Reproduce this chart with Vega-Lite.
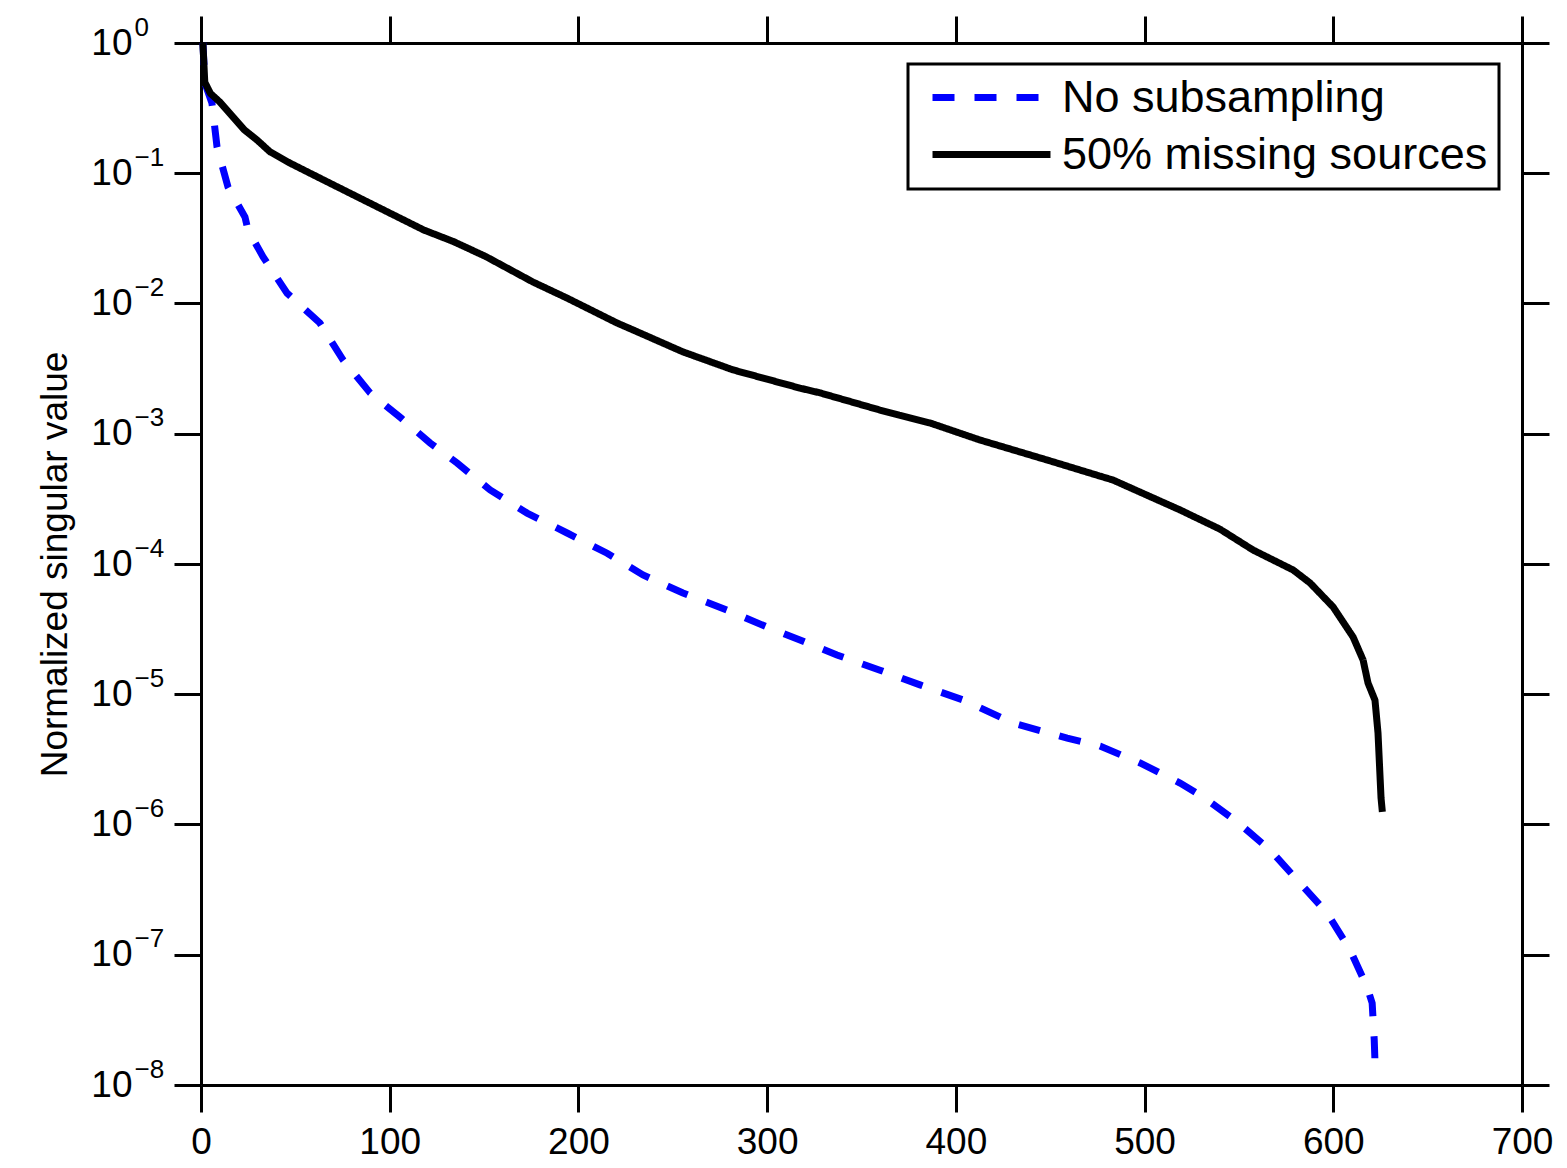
{
  "$schema": "https://vega.github.io/schema/vega-lite/v6.json",
  "width": 1321,
  "height": 1042,
  "autosize": {"type": "none"},
  "padding": {"left": 201, "top": 43, "right": 45, "bottom": 83},
  "background": "white",
  "config": {
    "view": {"stroke": null},
    "font": "Liberation Sans",
    "axis": {
      "domainColor": "black", "domainWidth": 3, "tickColor": "black", "tickWidth": 3, "tickSize": 27,
      "grid": false, "labelColor": "black", "labelFont": "Liberation Sans", "titleColor": "black", "titleFont": "Liberation Sans", "titleFontWeight": "normal",
      "labelFlush": false, "labelOverlap": false
    },
    "legend": {
      "strokeColor": "black", "strokeWidth": 3, "fillColor": "white", "padding": 11,
      "labelFont": "Liberation Sans", "labelFontSize": 45, "labelColor": "black", "labelLimit": 0,
      "symbolType": "M-4,0H4", "symbolSize": 870, "symbolStrokeWidth": 7, "symbolOffset": 50,
      "labelOffset": 48, "rowPadding": 11, "cornerRadius": 0
    }
  },
  "data": {
    "values": [
      {"series": "No subsampling", "x": 1, "v": 1.0},
      {"series": "No subsampling", "x": 2.1, "v": 0.49},
      {"series": "No subsampling", "x": 5.8, "v": 0.346},
      {"series": "No subsampling", "x": 8.5, "v": 0.159},
      {"series": "No subsampling", "x": 14.3, "v": 0.0784},
      {"series": "No subsampling", "x": 23.3, "v": 0.0461},
      {"series": "No subsampling", "x": 24.9, "v": 0.0367},
      {"series": "No subsampling", "x": 32.9, "v": 0.0228},
      {"series": "No subsampling", "x": 45.6, "v": 0.012},
      {"series": "No subsampling", "x": 63, "v": 0.00708},
      {"series": "No subsampling", "x": 75.3, "v": 0.00368},
      {"series": "No subsampling", "x": 89.6, "v": 0.00206},
      {"series": "No subsampling", "x": 106, "v": 0.00132},
      {"series": "No subsampling", "x": 121.4, "v": 0.00085},
      {"series": "No subsampling", "x": 135.7, "v": 0.000596},
      {"series": "No subsampling", "x": 153.2, "v": 0.00037},
      {"series": "No subsampling", "x": 172.8, "v": 0.000246},
      {"series": "No subsampling", "x": 194, "v": 0.000173},
      {"series": "No subsampling", "x": 215.2, "v": 0.000121},
      {"series": "No subsampling", "x": 234.2, "v": 8.24e-5},
      {"series": "No subsampling", "x": 255.4, "v": 5.99e-5},
      {"series": "No subsampling", "x": 278.8, "v": 4.43e-5},
      {"series": "No subsampling", "x": 300, "v": 3.28e-5},
      {"series": "No subsampling", "x": 317.4, "v": 2.61e-5},
      {"series": "No subsampling", "x": 337, "v": 2.0e-5},
      {"series": "No subsampling", "x": 359.8, "v": 1.53e-5},
      {"series": "No subsampling", "x": 381, "v": 1.18e-5},
      {"series": "No subsampling", "x": 403.8, "v": 9.04e-6},
      {"series": "No subsampling", "x": 430.3, "v": 6.02e-6},
      {"series": "No subsampling", "x": 459, "v": 4.6e-6},
      {"series": "No subsampling", "x": 476.4, "v": 4.0e-6},
      {"series": "No subsampling", "x": 497.6, "v": 2.97e-6},
      {"series": "No subsampling", "x": 518.8, "v": 2.08e-6},
      {"series": "No subsampling", "x": 531, "v": 1.63e-6},
      {"series": "No subsampling", "x": 549, "v": 1.05e-6},
      {"series": "No subsampling", "x": 566.5, "v": 6.37e-7},
      {"series": "No subsampling", "x": 582.4, "v": 3.55e-7},
      {"series": "No subsampling", "x": 596.7, "v": 2.09e-7},
      {"series": "No subsampling", "x": 608.9, "v": 1.09e-7},
      {"series": "No subsampling", "x": 617.9, "v": 5.65e-8},
      {"series": "No subsampling", "x": 620.6, "v": 4.26e-8},
      {"series": "No subsampling", "x": 621.7, "v": 2.21e-8},
      {"series": "No subsampling", "x": 622.2, "v": 1.37e-8},
      {"series": "50% missing sources", "x": 1, "v": 1.0},
      {"series": "50% missing sources", "x": 2, "v": 0.5},
      {"series": "50% missing sources", "x": 5, "v": 0.41},
      {"series": "50% missing sources", "x": 10, "v": 0.352},
      {"series": "50% missing sources", "x": 17, "v": 0.27},
      {"series": "50% missing sources", "x": 23, "v": 0.215},
      {"series": "50% missing sources", "x": 29.7, "v": 0.18},
      {"series": "50% missing sources", "x": 36.6, "v": 0.146},
      {"series": "50% missing sources", "x": 47, "v": 0.12},
      {"series": "50% missing sources", "x": 65, "v": 0.0887},
      {"series": "50% missing sources", "x": 83, "v": 0.0657},
      {"series": "50% missing sources", "x": 100, "v": 0.0495},
      {"series": "50% missing sources", "x": 118, "v": 0.0367},
      {"series": "50% missing sources", "x": 134, "v": 0.0298},
      {"series": "50% missing sources", "x": 151, "v": 0.0229},
      {"series": "50% missing sources", "x": 176, "v": 0.0146},
      {"series": "50% missing sources", "x": 194, "v": 0.011},
      {"series": "50% missing sources", "x": 220.5, "v": 0.00708},
      {"series": "50% missing sources", "x": 229, "v": 0.00626},
      {"series": "50% missing sources", "x": 255.4, "v": 0.00425},
      {"series": "50% missing sources", "x": 282, "v": 0.00309},
      {"series": "50% missing sources", "x": 317.4, "v": 0.00224},
      {"series": "50% missing sources", "x": 328, "v": 0.00206},
      {"series": "50% missing sources", "x": 359.8, "v": 0.00152},
      {"series": "50% missing sources", "x": 386.3, "v": 0.00121},
      {"series": "50% missing sources", "x": 412.8, "v": 0.000895},
      {"series": "50% missing sources", "x": 448.3, "v": 0.000629},
      {"series": "50% missing sources", "x": 483.3, "v": 0.000441},
      {"series": "50% missing sources", "x": 518.8, "v": 0.00026},
      {"series": "50% missing sources", "x": 540, "v": 0.000185},
      {"series": "50% missing sources", "x": 557.5, "v": 0.000128},
      {"series": "50% missing sources", "x": 578.7, "v": 9.0e-5},
      {"series": "50% missing sources", "x": 587.7, "v": 7.15e-5},
      {"series": "50% missing sources", "x": 599.9, "v": 4.68e-5},
      {"series": "50% missing sources", "x": 610.5, "v": 2.75e-5},
      {"series": "50% missing sources", "x": 615.8, "v": 1.83e-5},
      {"series": "50% missing sources", "x": 618.4, "v": 1.22e-5},
      {"series": "50% missing sources", "x": 622.1, "v": 9.0e-6},
      {"series": "50% missing sources", "x": 623.7, "v": 5.04e-6},
      {"series": "50% missing sources", "x": 625.3, "v": 1.6e-6},
      {"series": "50% missing sources", "x": 626, "v": 1.25e-6}
    ]
  },
  "resolve": {"axis": {"x": "independent", "y": "independent"}},
  "layer": [
    {
      "transform": [{"filter": "datum.series === 'No subsampling'"}],
      "mark": {"type": "line", "strokeWidth": 7, "clip": false},
      "encoding": {
        "x": {"field": "x", "type": "quantitative",
          "scale": {"domain": [0, 700], "nice": false, "zero": false},
          "axis": {"orient": "bottom", "values": [0,100,200,300,400,500,600,700], "labelFontSize": 37, "labelPadding": 12, "title": null}},
        "y": {"field": "v", "type": "quantitative",
          "scale": {"type": "log", "domain": [1e-8, 1], "nice": false},
          "axis": {"orient": "left", "values": [1e-8,1e-7,1e-6,1e-5,1e-4,1e-3,1e-2,1e-1,1],
            "labelExpr": "'10'",
            "labelFontSize": 37, "labelPadding": 42, "labelAlign": "right", "labelBaseline": "middle",
            "title": "Normalized singular value", "titleFontSize": 37, "titleX": -146, "titleY": 521,
            "titleAngle": 270, "titleAlign": "center", "titleBaseline": "middle"}},
        "color": {"field": "series", "type": "nominal",
          "scale": {"domain": ["No subsampling", "50% missing sources"], "range": ["#0000ff", "#000000"]},
          "legend": {"orient": "none", "legendX": 707, "legendY": 21, "title": null}},
        "strokeDash": {"field": "series", "type": "nominal",
          "scale": {"domain": ["No subsampling", "50% missing sources"], "range": [[22, 20], [1, 0]]},
          "legend": {"orient": "none", "legendX": 707, "legendY": 21, "title": null}},
        "order": {"field": "x", "type": "quantitative"}
      }
    },
    {
      "transform": [{"filter": "datum.series === '50% missing sources'"}],
      "mark": {"type": "line", "strokeWidth": 7, "clip": false},
      "encoding": {
        "x": {"field": "x", "type": "quantitative",
          "scale": {"domain": [0, 700], "nice": false, "zero": false},
          "axis": {"orient": "top", "values": [0,100,200,300,400,500,600,700], "labels": false, "title": null}},
        "y": {"field": "v", "type": "quantitative",
          "scale": {"type": "log", "domain": [1e-8, 1], "nice": false},
          "axis": {"orient": "right", "values": [1e-8,1e-7,1e-6,1e-5,1e-4,1e-3,1e-2,1e-1,1], "labels": false, "title": null}},
        "color": {"field": "series", "type": "nominal",
          "scale": {"domain": ["No subsampling", "50% missing sources"], "range": ["#0000ff", "#000000"]},
          "legend": {"orient": "none", "legendX": 707, "legendY": 21, "title": null}},
        "strokeDash": {"field": "series", "type": "nominal",
          "scale": {"domain": ["No subsampling", "50% missing sources"], "range": [[22, 20], [1, 0]]},
          "legend": {"orient": "none", "legendX": 707, "legendY": 21, "title": null}},
        "order": {"field": "x", "type": "quantitative"}
      }
    },
    {
      "transform": [{"filter": "datum.series === '50% missing sources'"}],
      "mark": {"type": "line", "strokeWidth": 0, "opacity": 0, "clip": false},
      "encoding": {
        "x": {"field": "x", "type": "quantitative",
          "scale": {"domain": [0, 700], "nice": false, "zero": false},
          "axis": null},
        "y": {"field": "v", "type": "quantitative",
          "scale": {"type": "log", "domain": [1e-8, 1], "nice": false},
          "axis": {"orient": "left", "values": [1e-8,1e-7,1e-6,1e-5,1e-4,1e-3,1e-2,1e-1,1],
            "domain": false, "ticks": false, "tickSize": 0,
            "labelExpr": "['0','−1','−2','−3','−4','−5','−6','−7','−8'][round(-log(datum.value)/LN10)]",
            "labelFontSize": 26, "labelPadding": 67, "labelAlign": "left", "labelBaseline": "middle", "labelOffset": -16,
            "title": null}},
        "order": {"field": "x", "type": "quantitative"}
      }
    }
  ]
}
